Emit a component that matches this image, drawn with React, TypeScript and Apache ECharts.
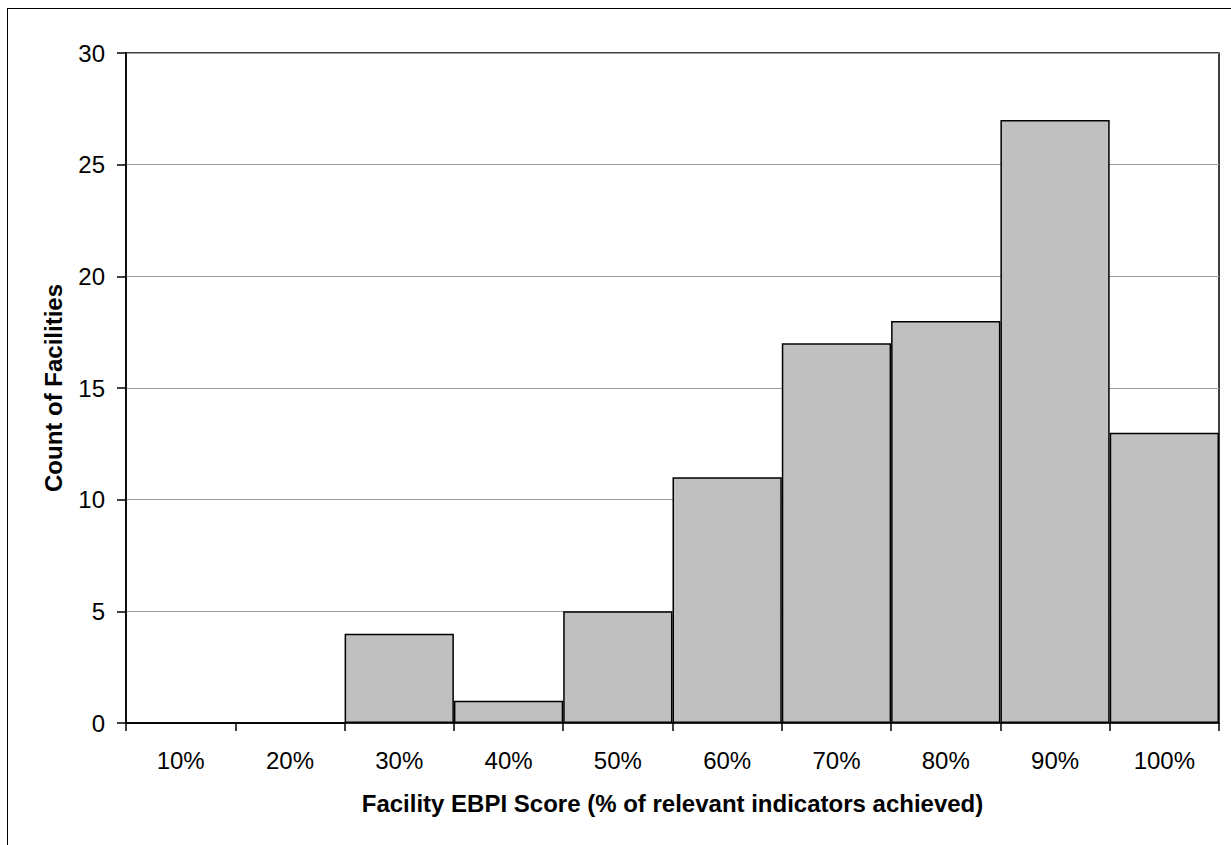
import React, { useEffect, useRef } from "react";
import * as echarts from "echarts";

const categories = ["10%", "20%", "30%", "40%", "50%", "60%", "70%", "80%", "90%", "100%"];
const counts = [0, 0, 4, 1, 5, 11, 17, 18, 27, 13];
const xTitle = "Facility EBPI Score (% of relevant indicators achieved)";
const yTitle = "Count of Facilities";

export default function App() {
  const ref = useRef<HTMLDivElement>(null);
  useEffect(() => {
    if (!ref.current) return;
    const chart = echarts.init(ref.current, null, { renderer: "svg" });
    const font = "'Liberation Sans', Arial, sans-serif";
    chart.setOption({
      animation: false,
      backgroundColor: "transparent",
      grid: {
        left: 126,
        top: 53,
        right: 12,
        bottom: 122,
        show: true,
        borderColor: "#000",
        borderWidth: 1.5,
        backgroundColor: "transparent",
      },
      xAxis: {
        type: "category",
        data: categories,
        name: xTitle,
        nameLocation: "middle",
        nameGap: 68,
        nameTextStyle: { fontFamily: font, fontSize: 24, fontWeight: "bold", color: "#000" },
        axisLine: { show: true, lineStyle: { color: "#000", width: 1.5 } },
        axisTick: { show: true, length: 8, alignWithLabel: false, lineStyle: { color: "#000", width: 1.5 } },
        axisLabel: { fontFamily: font, fontSize: 24, color: "#000", margin: 25, interval: 0 },
        splitLine: { show: false },
      },
      yAxis: {
        type: "value",
        min: 0,
        max: 30,
        interval: 5,
        name: yTitle,
        nameLocation: "middle",
        nameGap: 61,
        nameTextStyle: { fontFamily: font, fontSize: 24, fontWeight: "bold", color: "#000" },
        axisLine: { show: true, lineStyle: { color: "#000", width: 1.5 } },
        axisTick: { show: true, length: 9, inside: false, lineStyle: { color: "#000", width: 1.5 } },
        axisLabel: { fontFamily: font, fontSize: 24, color: "#000", margin: 21 },
        splitLine: { show: true, lineStyle: { color: "#a0a0a0", width: 1 } },
      },
      series: [
        {
          type: "bar",
          data: counts,
          barCategoryGap: "0%",
          itemStyle: { color: "#c0c0c0", borderColor: "#000", borderWidth: 1.5 },
        },
      ],
    });
    return () => chart.dispose();
  }, []);
  return (
    <div style={{ position: "absolute", left: 0, top: 0, width: 1231, height: 845, overflow: "hidden", background: "#fff" }}>
      <div style={{ position: "absolute", left: 7, top: 8, width: 1300, height: 900, border: "1.5px solid #000", boxSizing: "border-box" }} />
      <div ref={ref} style={{ position: "absolute", left: 0, top: 0, width: 1231, height: 845 }} />
    </div>
  );
}
